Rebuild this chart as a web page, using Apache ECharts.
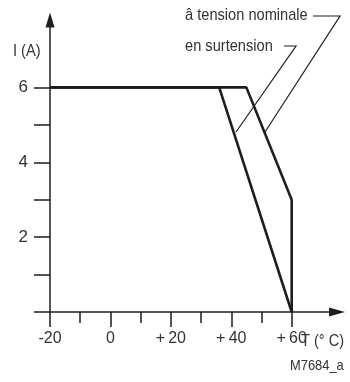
<!DOCTYPE html>
<html>
<head>
<meta charset="utf-8">
<script src="https://cdn.jsdelivr.net/npm/echarts@6/dist/echarts.min.js"></script>
<style>
  html, body { margin: 0; padding: 0; background: #fff; }
  #chart { width: 350px; height: 382px; }
</style>
</head>
<body>
<div id="chart"></div>
<script>
// courbes de déclassement : température (°C) -> courant (A)
const nominalT = [-20, 45, 60, 60];
const nominalI = [6, 6, 3, 0];
const surtensionT = [-20, 36, 60];
const surtensionI = [6, 6, 0];

const xMajorTicks = [-20, 0, 20, 40, 60];
const xMinorTicks = [-10, 10, 30, 50];
const yTicks = [0, 1, 2, 3, 4, 5, 6];
const yLabels = [2, 4, 6];

const FONT = '"Liberation Sans", Arial, sans-serif';
const INK = '#1e1e1e';
const TXT = '#333';

const toPairs = (xs, ys) => xs.map((x, i) => [x, ys[i]]);

const chart = echarts.init(document.getElementById('chart'));

const xBase = {
  type: 'value',
  position: 'bottom',
  min: -20,
  max: 75,
  splitLine: { show: false },
};

// texte un peu resserré comme sur le schéma d'origine
const narrowText = (left, top, text, size) => ({
  type: 'text',
  left,
  top,
  scaleX: 0.86,
  style: { text, font: size + 'px ' + FONT, fill: TXT },
});

chart.setOption({
  animation: false,
  grid: { left: 50, right: 13, top: 20, bottom: 70 },
  xAxis: [
    {
      ...xBase,
      axisLine: {
        show: true,
        onZero: false,
        symbol: ['none', 'triangle'],
        symbolSize: [9, 16],
        lineStyle: { color: INK, width: 1.5 },
      },
      axisTick: { show: true, customValues: xMajorTicks, length: 15, lineStyle: { color: INK, width: 1.5 } },
      axisLabel: {
        customValues: xMajorTicks,
        margin: 19,
        color: TXT,
        fontFamily: FONT,
        fontSize: 16,
        formatter: (v) => (v > 0 ? '+\u2009' + v : String(v)),
      },
    },
    {
      ...xBase,
      axisLine: { show: false, onZero: false },
      axisTick: { show: true, customValues: xMinorTicks, length: 11, lineStyle: { color: INK, width: 1.5 } },
      axisLabel: { show: false },
    },
  ],
  yAxis: {
    type: 'value',
    position: 'left',
    min: 0,
    max: 7.8,
    splitLine: { show: false },
    axisLine: {
      show: true,
      onZero: false,
      symbol: ['none', 'triangle'],
      symbolSize: [9, 15],
      lineStyle: { color: INK, width: 1.5 },
    },
    axisTick: { show: true, customValues: yTicks, length: 16, lineStyle: { color: INK, width: 1.5 } },
    axisLabel: {
      customValues: yLabels,
      margin: 22,
      color: TXT,
      fontFamily: FONT,
      fontSize: 17,
    },
  },
  series: [
    {
      name: 'â tension nominale',
      type: 'line',
      xAxisIndex: 0,
      data: toPairs(nominalT, nominalI),
      symbol: 'none',
      lineStyle: { color: INK, width: 2.6 },
      z: 5,
    },
    {
      name: 'en surtension',
      type: 'line',
      xAxisIndex: 0,
      data: toPairs(surtensionT, surtensionI),
      symbol: 'none',
      lineStyle: { color: INK, width: 2.6 },
      z: 5,
    },
  ],
  graphic: [
    narrowText(13, 43, 'I (A)', 17),
    narrowText(301, 333, 'T (° C)', 17),
    narrowText(290, 358, 'M7684_a', 15),
    narrowText(185, 7, 'â tension nominale', 17),
    narrowText(185, 38, 'en surtension', 17),
    // traits de rappel
    { type: 'polyline', shape: { points: [[313, 16], [340, 16], [265, 132]] }, style: { stroke: INK, lineWidth: 1.2, fill: null } },
    { type: 'polyline', shape: { points: [[284, 46], [296, 46], [236, 132]] }, style: { stroke: INK, lineWidth: 1.2, fill: null } },
  ],
});
</script>
</body>
</html>
